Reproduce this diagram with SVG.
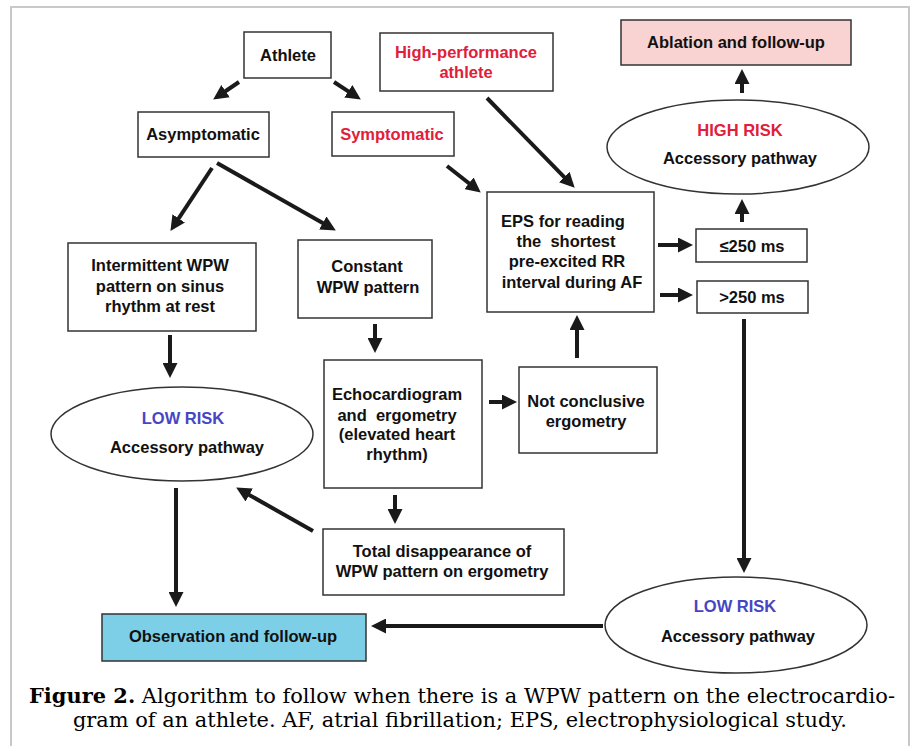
<svg xmlns="http://www.w3.org/2000/svg" width="912" height="746" viewBox="0 0 912 746">
<style>
.box{fill:#fff;stroke:#333;stroke-width:1.5}
.ell{fill:#fff;stroke:#333;stroke-width:1.5}
.t{font-family:"Liberation Sans",Arial,sans-serif;font-weight:bold;font-size:16.5px;fill:#111;text-anchor:middle}
.red{fill:#e0203a}
.blue{fill:#4646c4}
.arr{stroke:#1a1a1a;stroke-width:4;fill:none;marker-end:url(#ah)}
.cap{font-family:"DejaVu Serif","Liberation Serif",serif;font-size:20.5px;fill:#000}
</style>
<defs>
<marker id="ah" markerUnits="userSpaceOnUse" viewBox="0 0 15 15" markerWidth="15" markerHeight="15" refX="6" refY="7.5" orient="auto">
<path d="M0,0 L15,7.5 L0,15 z" fill="#1a1a1a"/>
</marker>
</defs>
<rect x="0" y="0" width="912" height="746" fill="#fff"/>
<rect x="11" y="7" width="898" height="760" fill="#fff" stroke="#c8c8c8" stroke-width="2"/>

<g id="connectors">
<line class="arr" x1="239" y1="82" x2="220.6" y2="94.5"/>
<line class="arr" x1="334" y1="82" x2="353.3" y2="94.6"/>
<line class="arr" x1="212" y1="168" x2="175.4" y2="223.4"/>
<line class="arr" x1="217" y1="163" x2="328" y2="226"/>
<line class="arr" x1="447" y1="166" x2="473.7" y2="187"/>
<line class="arr" x1="487" y1="98" x2="568.4" y2="181.3"/>
<line class="arr" x1="742" y1="93" x2="742" y2="78"/>
<line class="arr" x1="742" y1="222" x2="742" y2="208"/>
<line class="arr" x1="658" y1="245" x2="684" y2="245"/>
<line class="arr" x1="660" y1="295" x2="684" y2="295"/>
<line class="arr" x1="744" y1="319" x2="744" y2="564"/>
<line class="arr" x1="603" y1="626" x2="380" y2="626"/>
<line class="arr" x1="170" y1="335" x2="170" y2="369"/>
<line class="arr" x1="375" y1="324" x2="375" y2="344"/>
<line class="arr" x1="489" y1="402" x2="508" y2="402"/>
<line class="arr" x1="577" y1="358" x2="577" y2="324"/>
<line class="arr" x1="395" y1="495" x2="395" y2="515"/>
<line class="arr" x1="313" y1="531" x2="244" y2="492"/>
<line class="arr" x1="176" y1="488" x2="176" y2="598"/>
</g>

<g id="athlete">
<rect class="box" x="244" y="32" width="87" height="46"/>
<text class="t" x="288" y="61">Athlete</text>
</g>
<g id="high-performance">
<rect class="box" x="380" y="33" width="173" height="58"/>
<text class="t red" x="466" y="58">High-performance</text>
<text class="t red" x="466" y="78">athlete</text>
</g>
<g id="ablation">
<rect class="box" x="621" y="20" width="230" height="45" style="fill:#f8d3d1"/>
<text class="t" x="736" y="48">Ablation and follow-up</text>
</g>
<g id="asymptomatic">
<rect class="box" x="138" y="112" width="131" height="45"/>
<text class="t" x="203" y="140">Asymptomatic</text>
</g>
<g id="symptomatic">
<rect class="box" x="332" y="112" width="122" height="44"/>
<text class="t red" x="392" y="140">Symptomatic</text>
</g>
<g id="high-risk">
<ellipse class="ell" cx="738" cy="147" rx="131" ry="47"/>
<text class="t red" x="740" y="136">HIGH RISK</text>
<text class="t" x="740" y="164">Accessory pathway</text>
</g>
<g id="eps">
<rect class="box" x="487" y="192" width="167" height="120"/>
<text class="t" x="563" y="227">EPS for reading</text>
<text class="t" x="566" y="247" xml:space="preserve">the  shortest</text>
<text class="t" x="567" y="267">pre-excited RR</text>
<text class="t" x="572" y="288">interval during AF</text>
</g>
<g id="le250">
<rect class="box" x="696" y="229" width="111" height="33"/>
<text class="t" x="752" y="252">≤250 ms</text>
</g>
<g id="gt250">
<rect class="box" x="697" y="281" width="111" height="32"/>
<text class="t" x="752" y="303">&gt;250 ms</text>
</g>
<g id="intermittent">
<rect class="box" x="68" y="243" width="188" height="88"/>
<text class="t" x="160" y="271">Intermittent WPW</text>
<text class="t" x="160" y="292">pattern on sinus</text>
<text class="t" x="160" y="312">rhythm at rest</text>
</g>
<g id="constant">
<rect class="box" x="298" y="240" width="134" height="78"/>
<text class="t" x="367" y="272">Constant</text>
<text class="t" x="368" y="293">WPW pattern</text>
</g>
<g id="low-risk-left">
<ellipse class="ell" cx="182" cy="434" rx="131" ry="47"/>
<text class="t blue" x="183" y="424">LOW RISK</text>
<text class="t" x="187" y="453">Accessory pathway</text>
</g>
<g id="echo">
<rect class="box" x="324" y="360" width="158" height="128"/>
<text class="t" x="397" y="400">Echocardiogram</text>
<text class="t" x="397" y="421" xml:space="preserve">and  ergometry</text>
<text class="t" x="397" y="440">(elevated heart</text>
<text class="t" x="397" y="460">rhythm)</text>
</g>
<g id="not-conclusive">
<rect class="box" x="519" y="367" width="138" height="86"/>
<text class="t" x="586" y="407">Not conclusive</text>
<text class="t" x="586" y="427">ergometry</text>
</g>
<g id="total">
<rect class="box" x="323" y="529" width="241" height="66"/>
<text class="t" x="442" y="557">Total disappearance of</text>
<text class="t" x="442" y="577">WPW pattern on ergometry</text>
</g>
<g id="observation">
<rect class="box" x="102" y="614" width="264" height="47" style="fill:#7dcfe8"/>
<text class="t" x="233" y="642">Observation and follow-up</text>
</g>
<g id="low-risk-right">
<ellipse class="ell" cx="736" cy="625" rx="131" ry="48"/>
<text class="t blue" x="735" y="612">LOW RISK</text>
<text class="t" x="738" y="642">Accessory pathway</text>
</g>

<g id="caption">
<text class="cap" x="29" y="703" textLength="866" lengthAdjust="spacingAndGlyphs"><tspan font-weight="bold">Figure 2.</tspan> Algorithm to follow when there is a WPW pattern on the electrocardio-</text>
<text class="cap" x="73" y="727" textLength="774" lengthAdjust="spacingAndGlyphs">gram of an athlete. AF, atrial fibrillation; EPS, electrophysiological study.</text>
</g>
</svg>
